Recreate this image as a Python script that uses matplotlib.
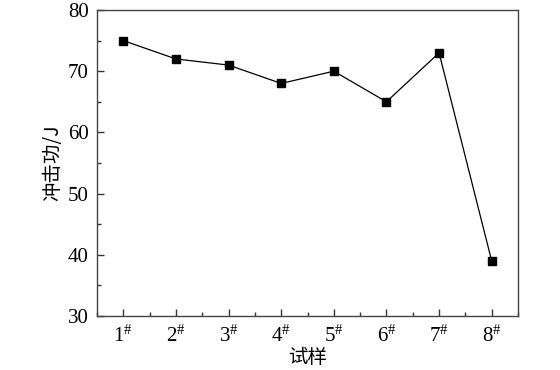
import matplotlib
matplotlib.use('Agg')
import matplotlib.pyplot as plt
from matplotlib.ticker import MultipleLocator

samples = [1, 2, 3, 4, 5, 6, 7, 8]
sample_labels = ['1$^{\\#}$', '2$^{\\#}$', '3$^{\\#}$', '4$^{\\#}$', '5$^{\\#}$', '6$^{\\#}$', '7$^{\\#}$', '8$^{\\#}$']
energy = [75, 72, 71, 68, 70, 65, 73, 39]

plt.rcParams['font.family'] = ['Liberation Serif', 'Noto Sans CJK SC']
plt.rcParams['mathtext.fontset'] = 'custom'
plt.rcParams['mathtext.rm'] = 'Liberation Serif'
plt.rcParams['mathtext.it'] = 'Liberation Serif:italic'

fig = plt.figure(figsize=(5.6, 3.7), dpi=100)
ax = fig.add_axes([97/560, 1 - 316/370, 421/560, 306/370])
ax.plot(samples, energy, color='black', linewidth=0.9, marker='s', markersize=5.5)

ax.set_xlim(0.5, 8.5)
ax.set_ylim(30, 80)
ax.set_xticks(samples)
ax.set_xticklabels(sample_labels)
ax.xaxis.set_minor_locator(MultipleLocator(0.5))
ax.yaxis.set_major_locator(MultipleLocator(10))
ax.yaxis.set_minor_locator(MultipleLocator(5))
ax.tick_params(which='both', direction='in', labelsize=15, width=1, color='#333333')
ax.tick_params(which='major', length=5)
ax.tick_params(which='minor', length=3)
ax.tick_params(axis='x', which='major', pad=7)
ax.tick_params(axis='y', which='major', pad=6)
for s in ax.spines.values():
    s.set_color('#444444')
    s.set_linewidth(1)

ax.set_xlabel('试样', fontsize=14, family=['Noto Sans CJK SC'], labelpad=0)
ax.set_ylabel('冲击功/J', fontsize=14, family=['Noto Sans CJK SC'], labelpad=3)

fig.savefig('out.png', dpi=100)
